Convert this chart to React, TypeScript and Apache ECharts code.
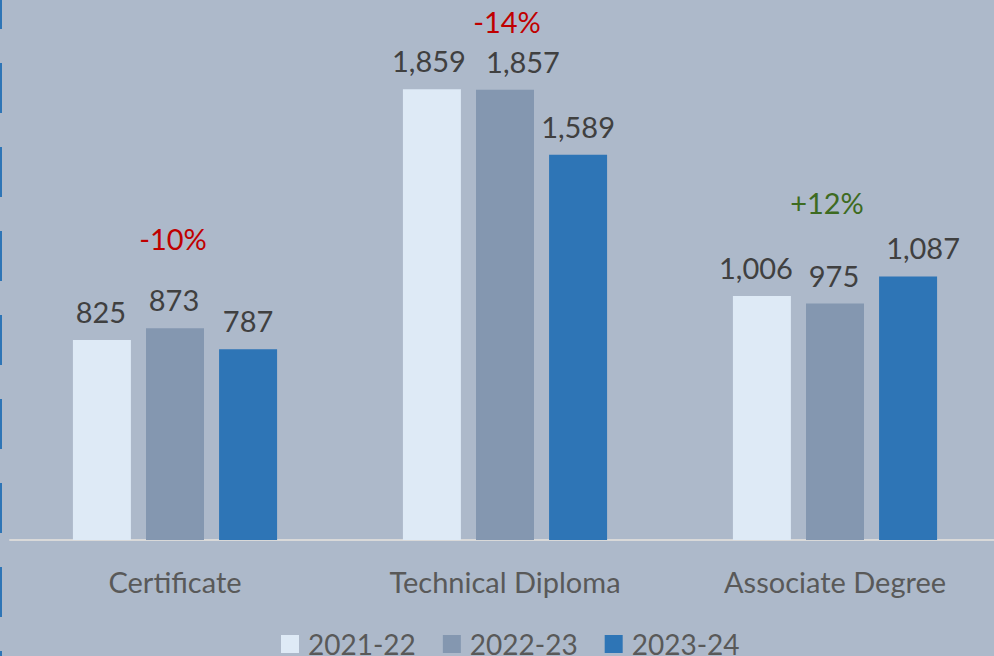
import React, { useEffect, useRef } from "react";
import * as echarts from "echarts";

const categories = ["Certificate", "Technical Diploma", "Associate Degree"];
const seriesNames = ["2021-22", "2022-23", "2023-24"];
const values2122 = [825, 1859, 1006];
const values2223 = [873, 1857, 975];
const values2324 = [787, 1589, 1087];
const changeLabels = ["-10%", "-14%", "+12%"];
const changeColors = ["#c00000", "#c00000", "#3d6b21"];

// layout-only settings
const barColors = ["#deeaf6", "#8497b0", "#2e75b6"];
const labelShiftX = [
  [-1, -3, -6],
  [-1, 18, -1],
  [0, 0, 15],
];
const changeLabelY = [238, 21, 202];
const changeLabelDX = [-2, 2, -8];
const FONT = "Lato";

export default function App() {
  const ref = useRef<HTMLDivElement>(null);
  useEffect(() => {
    document.body.style.margin = "0";
    document.body.style.overflow = "hidden";
    const chart = echarts.init(ref.current!, null, { renderer: "svg" });
    const all = [values2122, values2223, values2324];
    chart.setOption({
      animation: false,
      backgroundColor: "#adb9ca",
      grid: { left: 10, right: 0, top: 55, bottom: 116 },
      legend: {
        data: seriesNames,
        top: 630,
        left: 281,
        itemWidth: 18,
        itemHeight: 18,
        itemGap: 27,
        padding: 0,
        icon: "rect",
        textStyle: {
          fontFamily: FONT,
          fontSize: 28,
          lineHeight: 28,
          color: "#595959",
          padding: [0, 0, 0, 4],
        },
      },
      xAxis: {
        type: "category",
        data: categories,
        axisLine: { lineStyle: { color: "#d9d9d9", width: 2 } },
        axisTick: { show: false },
        axisLabel: {
          fontFamily: FONT,
          fontSize: 29,
          lineHeight: 30,
          color: "#595959",
          margin: 26,
        },
      },
      yAxis: {
        type: "value",
        min: 0,
        max: 2000,
        show: false,
        splitLine: { show: false },
      },
      series: all.map((vals, i) => ({
        type: "bar",
        name: seriesNames[i],
        data: vals.map((v, j) => ({
          value: v,
          label: { offset: [labelShiftX[i][j], 0] },
        })),
        barWidth: 58,
        barGap: "26%",
        itemStyle: { color: barColors[i] },
        label: {
          show: true,
          position: "top",
          distance: 14,
          fontFamily: FONT,
          fontSize: 29,
          color: "#404040",
          formatter: (p: any) => Number(p.value).toLocaleString("en-US"),
        },
      })),
    });
    const graphics: any[] = [
      {
        type: "line",
        shape: { x1: 1, y1: 0, x2: 1, y2: 656 },
        style: { stroke: "#2e75b6", lineWidth: 2, lineDash: [50, 34], lineDashOffset: 21 },
      },
    ];
    categories.forEach((c, i) => {
      const x = chart.convertToPixel({ xAxisIndex: 0 }, c) as number;
      graphics.push({
        type: "text",
        x: x + changeLabelDX[i],
        y: changeLabelY[i],
        style: {
          text: changeLabels[i],
          fill: changeColors[i],
          fontFamily: FONT,
          fontSize: 29,
          align: "center",
          verticalAlign: "middle",
        },
      });
    });
    chart.setOption({ graphic: graphics });
    return () => chart.dispose();
  }, []);
  return <div ref={ref} style={{ width: 1000, height: 656 }} />;
}
